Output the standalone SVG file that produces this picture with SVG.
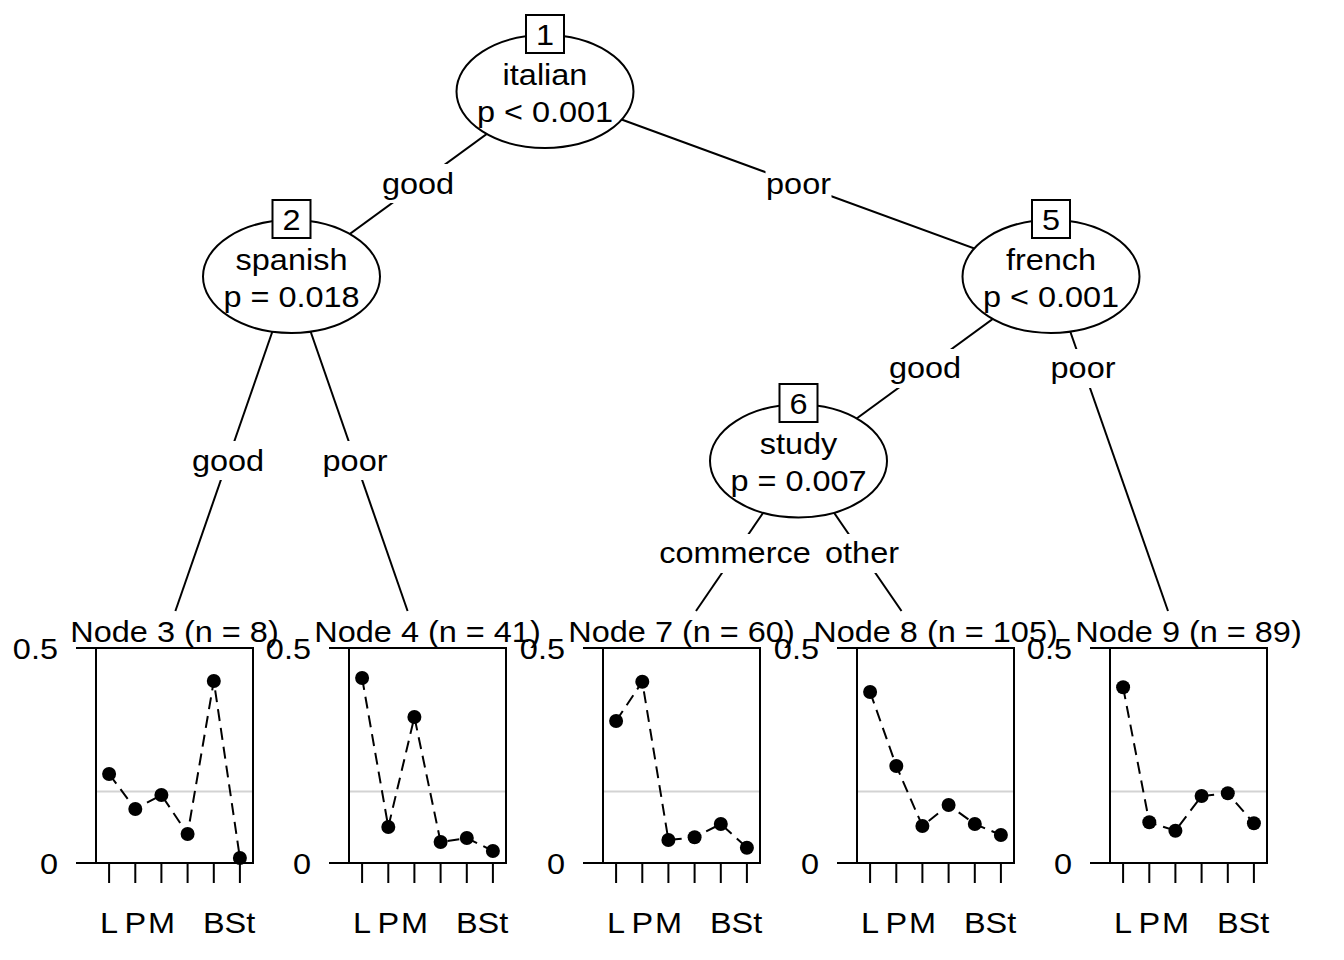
<svg xmlns="http://www.w3.org/2000/svg" width="1344" height="960" viewBox="0 0 1344 960">
<style>
text{font-family:"Liberation Sans",Arial,Helvetica,sans-serif;font-size:29px;fill:#000;text-anchor:middle}
text.end{text-anchor:end}
.edge{stroke:#000;stroke-width:2;fill:none}
.lblbg{fill:#fff;stroke:none}
.ell{fill:#fff;stroke:#000;stroke-width:2}
.idbox{fill:#fff;stroke:#000;stroke-width:2}
.frame{fill:none;stroke:#000;stroke-width:2}
.ax{stroke:#000;stroke-width:2;fill:none}
.ref{stroke:#d3d3d3;stroke-width:2}
.dl{stroke:#000;stroke-width:2;fill:none;stroke-dasharray:12 7}
.pt{fill:#000}
</style>
<rect width="1344" height="960" fill="#fff"/>
<g id="connectors">
  <line class="edge" x1="545" y1="91.5" x2="291.5" y2="276.5"/>
  <line class="edge" x1="545" y1="91.5" x2="1051" y2="276.5"/>
  <line class="edge" x1="291.5" y1="276.5" x2="175.4" y2="611"/>
  <line class="edge" x1="291.5" y1="276.5" x2="407.6" y2="611"/>
  <line class="edge" x1="1051" y1="276.5" x2="798.5" y2="461"/>
  <line class="edge" x1="1051" y1="276.5" x2="1168" y2="611"/>
  <line class="edge" x1="798.5" y1="461" x2="696" y2="611"/>
  <line class="edge" x1="798.5" y1="461" x2="901.5" y2="611"/>
  <g id="lbl-1-2"><rect class="lblbg" x="382" y="164" width="72" height="39"/><text transform="translate(418,193.5) scale(1.12,1)">good</text></g>
  <g id="lbl-1-5"><rect class="lblbg" x="765.5" y="164" width="66" height="39"/><text transform="translate(798.5,193.5) scale(1.12,1)">poor</text></g>
  <g id="lbl-2-3"><rect class="lblbg" x="192" y="441" width="72" height="39"/><text transform="translate(228,471) scale(1.12,1)">good</text></g>
  <g id="lbl-2-4"><rect class="lblbg" x="322" y="441" width="66" height="39"/><text transform="translate(355,471) scale(1.12,1)">poor</text></g>
  <g id="lbl-5-6"><rect class="lblbg" x="889" y="349" width="72" height="39"/><text transform="translate(925,378) scale(1.12,1)">good</text></g>
  <g id="lbl-5-9"><rect class="lblbg" x="1050" y="349" width="66" height="39"/><text transform="translate(1083,378) scale(1.12,1)">poor</text></g>
  <g id="lbl-6-7"><rect class="lblbg" x="659" y="534" width="152" height="39"/><text transform="translate(735,563) scale(1.12,1)">commerce</text></g>
  <g id="lbl-6-8"><rect class="lblbg" x="825" y="534" width="74" height="39"/><text transform="translate(862,563) scale(1.12,1)">other</text></g>
</g>
<g id="node1">
  <ellipse class="ell" cx="545" cy="91.5" rx="88.5" ry="56.5"/>
  <rect class="idbox" x="526" y="15" width="38" height="38"/>
  <text transform="translate(545,45) scale(1.12,1)">1</text>
  <text transform="translate(545,84.5) scale(1.12,1)">italian</text>
  <text transform="translate(545,121.5) scale(1.12,1)">p &lt; 0.001</text>
</g>
<g id="node2">
  <ellipse class="ell" cx="291.5" cy="276.5" rx="88.5" ry="56.5"/>
  <rect class="idbox" x="272.5" y="200" width="38" height="38"/>
  <text transform="translate(291.5,230) scale(1.12,1)">2</text>
  <text transform="translate(291.5,269.5) scale(1.12,1)">spanish</text>
  <text transform="translate(291.5,306.5) scale(1.12,1)">p = 0.018</text>
</g>
<g id="node5">
  <ellipse class="ell" cx="1051" cy="276.5" rx="88.5" ry="56.5"/>
  <rect class="idbox" x="1032" y="200" width="38" height="38"/>
  <text transform="translate(1051,230) scale(1.12,1)">5</text>
  <text transform="translate(1051,269.5) scale(1.12,1)">french</text>
  <text transform="translate(1051,306.5) scale(1.12,1)">p &lt; 0.001</text>
</g>
<g id="node6">
  <ellipse class="ell" cx="798.5" cy="461" rx="88.5" ry="56.5"/>
  <rect class="idbox" x="779.5" y="384" width="38" height="38"/>
  <text transform="translate(798.5,414) scale(1.12,1)">6</text>
  <text transform="translate(798.5,454) scale(1.12,1)">study</text>
  <text transform="translate(798.5,491) scale(1.12,1)">p = 0.007</text>
</g>
<g id="node3" transform="translate(96,0)">
  <text transform="translate(78.5,641.5) scale(1.12,1)">Node 3 (n = 8)</text>
  <line class="ref" x1="0" y1="791.5" x2="157" y2="791.5"/>
  <rect class="frame" x="0" y="648" width="157" height="215"/>
  <path class="ax" d="M-20,648H0M-20,863H0M13.1,863V883M39.3,863V883M65.4,863V883M91.6,863V883M117.8,863V883M143.9,863V883"/>
  <text class="end" transform="translate(-38,658.5) scale(1.12,1)">0.5</text>
  <text class="end" transform="translate(-38,873.5) scale(1.12,1)">0</text>
  <text transform="translate(13.1,933) scale(1.12,1)">L</text>
  <text transform="translate(39.3,933) scale(1.12,1)">P</text>
  <text transform="translate(65.4,933) scale(1.12,1)">M</text>
  <text transform="translate(117.8,933) scale(1.12,1)">B</text>
  <text transform="translate(143.9,933) scale(1.12,1)">St</text>
  <polyline class="dl" points="13.1,774 39.3,809 65.4,795 91.6,834 117.8,681 143.9,858"/>
  <g class="pt"><circle cx="13.1" cy="774" r="7"/><circle cx="39.3" cy="809" r="7"/><circle cx="65.4" cy="795" r="7"/><circle cx="91.6" cy="834" r="7"/><circle cx="117.8" cy="681" r="7"/><circle cx="143.9" cy="858" r="7"/></g>
</g>
<g id="node4" transform="translate(349,0)">
  <text transform="translate(78.5,641.5) scale(1.12,1)">Node 4 (n = 41)</text>
  <line class="ref" x1="0" y1="791.5" x2="157" y2="791.5"/>
  <rect class="frame" x="0" y="648" width="157" height="215"/>
  <path class="ax" d="M-20,648H0M-20,863H0M13.1,863V883M39.3,863V883M65.4,863V883M91.6,863V883M117.8,863V883M143.9,863V883"/>
  <text class="end" transform="translate(-38,658.5) scale(1.12,1)">0.5</text>
  <text class="end" transform="translate(-38,873.5) scale(1.12,1)">0</text>
  <text transform="translate(13.1,933) scale(1.12,1)">L</text>
  <text transform="translate(39.3,933) scale(1.12,1)">P</text>
  <text transform="translate(65.4,933) scale(1.12,1)">M</text>
  <text transform="translate(117.8,933) scale(1.12,1)">B</text>
  <text transform="translate(143.9,933) scale(1.12,1)">St</text>
  <polyline class="dl" points="13.1,678 39.3,827 65.4,717 91.6,842 117.8,838 143.9,851"/>
  <g class="pt"><circle cx="13.1" cy="678" r="7"/><circle cx="39.3" cy="827" r="7"/><circle cx="65.4" cy="717" r="7"/><circle cx="91.6" cy="842" r="7"/><circle cx="117.8" cy="838" r="7"/><circle cx="143.9" cy="851" r="7"/></g>
</g>
<g id="node7" transform="translate(603,0)">
  <text transform="translate(78.5,641.5) scale(1.12,1)">Node 7 (n = 60)</text>
  <line class="ref" x1="0" y1="791.5" x2="157" y2="791.5"/>
  <rect class="frame" x="0" y="648" width="157" height="215"/>
  <path class="ax" d="M-20,648H0M-20,863H0M13.1,863V883M39.3,863V883M65.4,863V883M91.6,863V883M117.8,863V883M143.9,863V883"/>
  <text class="end" transform="translate(-38,658.5) scale(1.12,1)">0.5</text>
  <text class="end" transform="translate(-38,873.5) scale(1.12,1)">0</text>
  <text transform="translate(13.1,933) scale(1.12,1)">L</text>
  <text transform="translate(39.3,933) scale(1.12,1)">P</text>
  <text transform="translate(65.4,933) scale(1.12,1)">M</text>
  <text transform="translate(117.8,933) scale(1.12,1)">B</text>
  <text transform="translate(143.9,933) scale(1.12,1)">St</text>
  <polyline class="dl" points="13.1,721 39.3,681.7 65.4,840 91.6,837.3 117.8,824 143.9,847.7"/>
  <g class="pt"><circle cx="13.1" cy="721" r="7"/><circle cx="39.3" cy="681.7" r="7"/><circle cx="65.4" cy="840" r="7"/><circle cx="91.6" cy="837.3" r="7"/><circle cx="117.8" cy="824" r="7"/><circle cx="143.9" cy="847.7" r="7"/></g>
</g>
<g id="node8" transform="translate(857,0)">
  <text transform="translate(78.5,641.5) scale(1.12,1)">Node 8 (n = 105)</text>
  <line class="ref" x1="0" y1="791.5" x2="157" y2="791.5"/>
  <rect class="frame" x="0" y="648" width="157" height="215"/>
  <path class="ax" d="M-20,648H0M-20,863H0M13.1,863V883M39.3,863V883M65.4,863V883M91.6,863V883M117.8,863V883M143.9,863V883"/>
  <text class="end" transform="translate(-38,658.5) scale(1.12,1)">0.5</text>
  <text class="end" transform="translate(-38,873.5) scale(1.12,1)">0</text>
  <text transform="translate(13.1,933) scale(1.12,1)">L</text>
  <text transform="translate(39.3,933) scale(1.12,1)">P</text>
  <text transform="translate(65.4,933) scale(1.12,1)">M</text>
  <text transform="translate(117.8,933) scale(1.12,1)">B</text>
  <text transform="translate(143.9,933) scale(1.12,1)">St</text>
  <polyline class="dl" points="13.1,692 39.3,766 65.4,826 91.6,805 117.8,824 143.9,835"/>
  <g class="pt"><circle cx="13.1" cy="692" r="7"/><circle cx="39.3" cy="766" r="7"/><circle cx="65.4" cy="826" r="7"/><circle cx="91.6" cy="805" r="7"/><circle cx="117.8" cy="824" r="7"/><circle cx="143.9" cy="835" r="7"/></g>
</g>
<g id="node9" transform="translate(1110,0)">
  <text transform="translate(78.5,641.5) scale(1.12,1)">Node 9 (n = 89)</text>
  <line class="ref" x1="0" y1="791.5" x2="157" y2="791.5"/>
  <rect class="frame" x="0" y="648" width="157" height="215"/>
  <path class="ax" d="M-20,648H0M-20,863H0M13.1,863V883M39.3,863V883M65.4,863V883M91.6,863V883M117.8,863V883M143.9,863V883"/>
  <text class="end" transform="translate(-38,658.5) scale(1.12,1)">0.5</text>
  <text class="end" transform="translate(-38,873.5) scale(1.12,1)">0</text>
  <text transform="translate(13.1,933) scale(1.12,1)">L</text>
  <text transform="translate(39.3,933) scale(1.12,1)">P</text>
  <text transform="translate(65.4,933) scale(1.12,1)">M</text>
  <text transform="translate(117.8,933) scale(1.12,1)">B</text>
  <text transform="translate(143.9,933) scale(1.12,1)">St</text>
  <polyline class="dl" points="13.1,687.3 39.3,822.3 65.4,830.7 91.6,796 117.8,793.3 143.9,823.3"/>
  <g class="pt"><circle cx="13.1" cy="687.3" r="7"/><circle cx="39.3" cy="822.3" r="7"/><circle cx="65.4" cy="830.7" r="7"/><circle cx="91.6" cy="796" r="7"/><circle cx="117.8" cy="793.3" r="7"/><circle cx="143.9" cy="823.3" r="7"/></g>
</g>
</svg>
